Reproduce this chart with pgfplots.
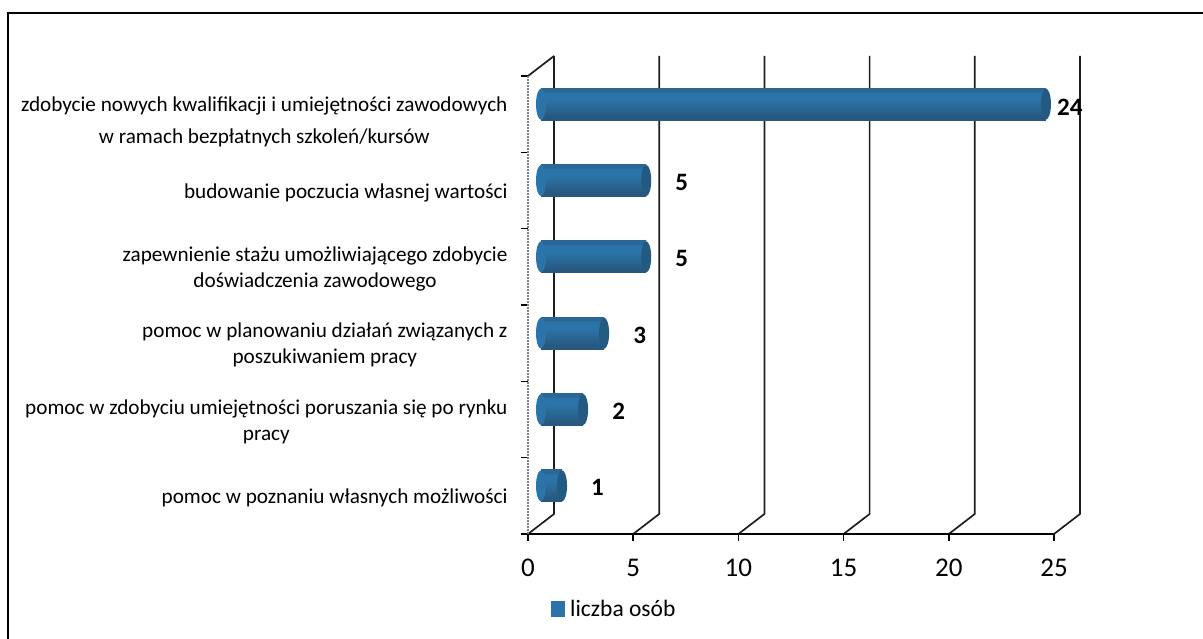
\documentclass[border=0pt]{standalone}
\usepackage{pgfplots}
\pgfplotsset{compat=1.18}
\usepackage{pgfplotstable}
\usepackage{fontspec}
\setmainfont{Carlito}
\definecolor{barmid}{HTML}{2B74A9}
\definecolor{bartop}{HTML}{2A6796}
\definecolor{barlow}{HTML}{27587F}
\definecolor{barcap}{HTML}{235A82}
\definecolor{gridc}{HTML}{1E1E1E}
\pgfdeclareverticalshading{cyl}{100bp}{color(0bp)=(barlow); color(30bp)=(barlow); color(45bp)=(bartop); color(58bp)=(barmid); color(68bp)=(barmid); color(70bp)=(bartop); color(100bp)=(bartop)}
\pgfdeclareplotmark{cylend}{\pgfpathellipse{\pgfpointorigin}{\pgfqpoint{5pt}{0pt}}{\pgfqpoint{0pt}{15.5pt}}\pgfusepathqfill}
\pgfplotstableread{
i v
1 1
2 2
3 3
4 5
5 5
}\lowbars
\pgfplotstableread{
i v
6 24
}\topbar
\pgfplotstableread{
i z
1 0
2 0
3 0
4 0
5 0
6 0
}\barstart
\begin{document}
\begin{tikzpicture}[x=1pt,y=1pt]
\path[use as bounding box] (0,0) rectangle (1203,639);
% frame
\draw[line width=1.6pt,black] (8,0) -- (8,626) -- (1203,626);
% back plane
\foreach \k in {0,1,2,3,4,5}{
  \pgfmathsetmacro{\fx}{528+\k*105.2}
  \draw[gridc,line width=1.7pt] (\fx,105) -- (\fx+26,125) -- (\fx+26,583);
}
\draw[gridc,line width=1.7pt] (528,563) -- (554,583);
% axes and labels
\begin{axis}[
  at={(528pt,105pt)},anchor=origin,
  scale only axis,width=526pt,height=458pt,
  xmin=0,xmax=25,ymin=0.5,ymax=6.5,
  axis x line=bottom,axis y line=left,
  x axis line style={-,black,line width=1.7pt},
  y axis line style={-,gray,line width=2pt,densely dotted},
  xtick={0,5,...,25},
  ytick={1,2,3,4,5,6},
  minor ytick={0.5,1.5,2.5,3.5,4.5,5.5,6.5},
  tick align=outside,
  major tick length=7pt,
  minor tick length=7pt,
  major x tick style={draw=black,line width=1.5pt},
  major y tick style={draw=none},
  minor y tick style={draw=black,line width=1.5pt},
  /pgf/number format/assume math mode=true,
  xticklabel style={font=\fontsize{27}{30}\selectfont,text height=17pt,text depth=0pt,yshift=-15pt},
  yticklabel style={font=\fontsize{21.2}{26}\selectfont,align=center,anchor=east,xshift=-10pt,yshift=-2pt},
  yticklabels={pomoc w poznaniu własnych możliwości,
    {pomoc w zdobyciu umiejętności poruszania się po rynku\\pracy},
    {pomoc w planowaniu działań związanych z\\poszukiwaniem pracy},
    {zapewnienie stażu umożliwiającego zdobycie\\doświadczenia zawodowego},
    budowanie poczucia własnej wartości,
    {\rule{0pt}{26pt}zdobycie nowych kwalifikacji i umiejętności zawodowych\\[6pt]w ramach bezpłatnych szkoleń/kursów}},
]
\end{axis}
% bars, standing at mid depth of the chart
\begin{axis}[
  at={(541pt,115pt)},anchor=origin,
  scale only axis,width=526pt,height=458pt,
  xmin=0,xmax=25,ymin=0.5,ymax=6.5,
  axis lines=none,clip=false,
  legend style={draw=none,fill=none,at={(0.019,-0.186)},anchor=west,
    font=\fontsize{23.5}{26}\selectfont,inner sep=0pt,outer sep=0pt,
    legend cell align=left},
  legend image code/.code={\fill[barmid] (0pt,-7pt) rectangle (13pt,8pt);\path[draw=none] (0pt,0pt) -- (17pt,0pt);},
]
\addplot[forget plot,only marks,mark=cylend,mark options={fill=barmid,draw=none}] table[x=z,y=i] {\barstart};
\addplot[forget plot,xbar,bar width=32pt,bar shift=0pt,draw=none,shading=cyl] coordinates {(1,1)};
\addplot[forget plot,xbar,bar width=32pt,bar shift=0pt,draw=none,shading=cyl] coordinates {(2,2)};
\addplot[forget plot,xbar,bar width=32pt,bar shift=0pt,draw=none,shading=cyl] coordinates {(3,3)};
\addplot[forget plot,xbar,bar width=32pt,bar shift=0pt,draw=none,shading=cyl] coordinates {(5,4)};
\addplot[forget plot,xbar,bar width=32pt,bar shift=0pt,draw=none,shading=cyl] coordinates {(5,5)};
\addplot[forget plot,xbar,bar width=32pt,bar shift=0pt,draw=none,shading=cyl] coordinates {(24,6)};
\addlegendimage{barmid}
\addlegendentry{liczba osób}
\addplot[forget plot,only marks,mark=cylend,mark options={fill=barcap,draw=none},
  point meta=explicit symbolic,
  nodes near coords,
  nodes near coords style={font=\fontsize{25}{28}\selectfont\bfseries,anchor=west,inner sep=0pt,xshift=29pt,yshift=-2pt,black}]
  table[x=v,y=i,meta=v] {\lowbars};
\addplot[forget plot,only marks,mark=cylend,mark options={fill=barcap,draw=none},
  point meta=explicit symbolic,
  nodes near coords,
  nodes near coords style={font=\fontsize{25}{28}\selectfont\bfseries,anchor=west,inner sep=0pt,xshift=11pt,yshift=-3pt,black}]
  table[x=v,y=i,meta=v] {\topbar};
\end{axis}
\end{tikzpicture}
\end{document}
